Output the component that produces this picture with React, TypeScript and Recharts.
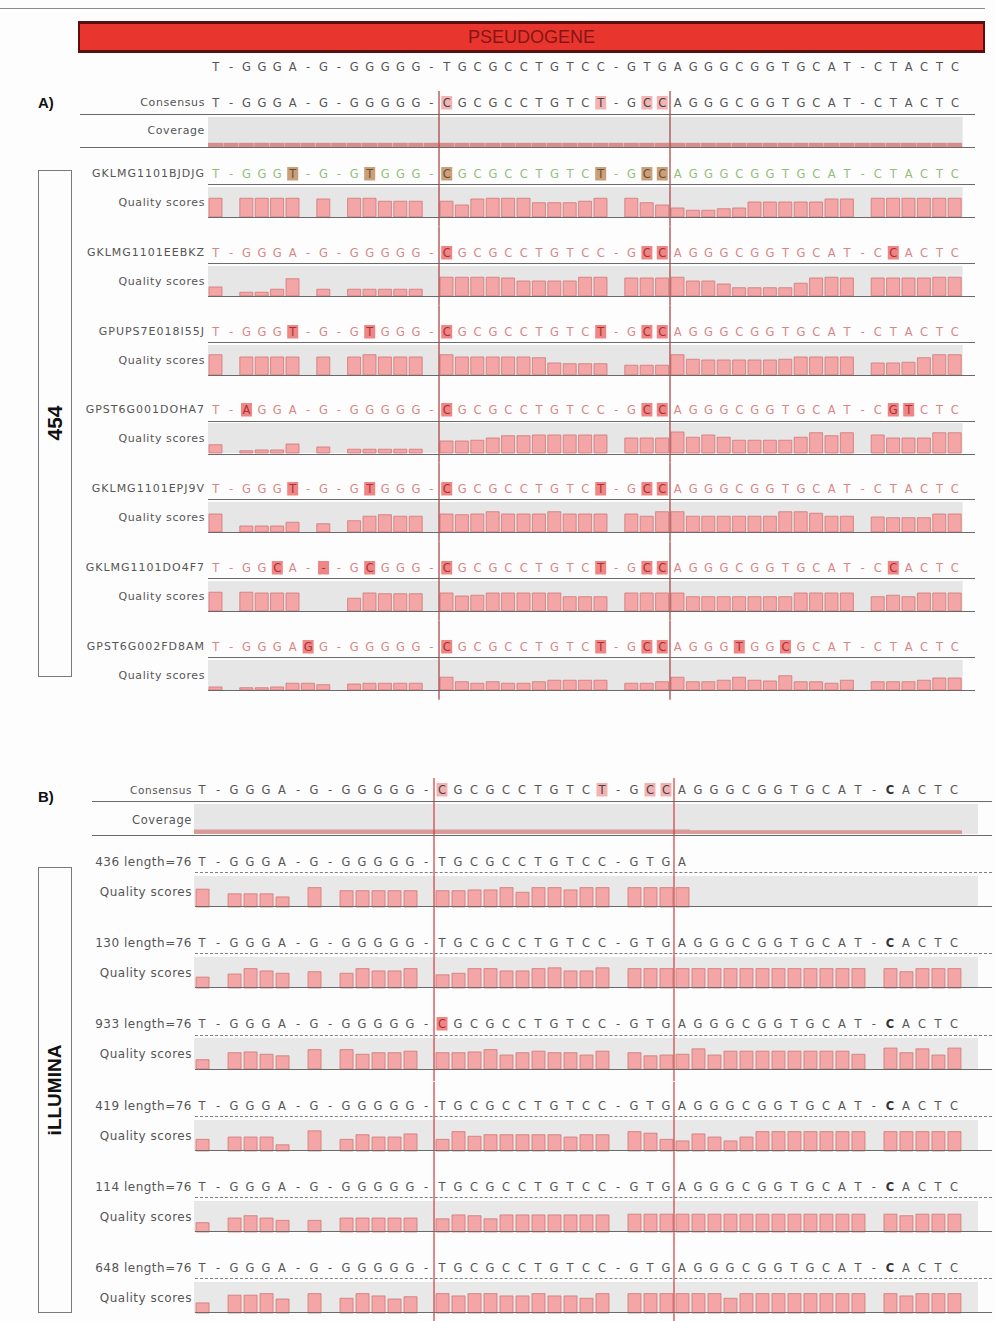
import React from 'react';
import { BarChart, Bar, XAxis, YAxis, ReferenceLine, CartesianGrid } from 'recharts';

const _ = null;

// ---------- Panel A: 454 reads ----------
const referenceA = 'T-GGGA-G-GGGGG-TGCGCCTGTCC-GTGAGGGCGGTGCAT-CTACTC';
const consensusA = 'T-GGGA-G-GGGGG-CGCGCCTGTCT-GCCAGGGCGGTGCAT-CTACTC';
const consensusMarksA = [15, 25, 28, 29];
const coverageA = [7, 7, 7, 7, 7, 7, 7, 7, 7, 7, 7, 7, 7, 7, 7, 7, 7, 7, 7, 7, 7, 7, 7, 7, 7, 7, 7, 7, 7, 7, 7, 7, 7, 7, 7, 7, 7, 7, 7, 7, 7, 7, 7, 7, 7, 7, 7, 7, 7];

const namesA = ['GKLMG1101BJDJG', 'GKLMG1101EEBKZ', 'GPUPS7E018I55J', 'GPST6G001DOHA7', 'GKLMG1101EPJ9V', 'GKLMG1101DO4F7', 'GPST6G002FD8AM'];
const seqsA = [
  'T-GGGT-G-GTGGG-CGCGCCTGTCT-GCCAGGGCGGTGCAT-CTACTC',
  'T-GGGA-G-GGGGG-CGCGCCTGTCC-GCCAGGGCGGTGCAT-CCACTC',
  'T-GGGT-G-GTGGG-CGCGCCTGTCT-GCCAGGGCGGTGCAT-CTACTC',
  'T-AGGA-G-GGGGG-CGCGCCTGTCC-GCCAGGGCGGTGCAT-CGTCTC',
  'T-GGGT-G-GTGGG-CGCGCCTGTCT-GCCAGGGCGGTGCAT-CTACTC',
  'T-GGCA---GCGGG-CGCGCCTGTCT-GCCAGGGCGGTGCAT-CCACTC',
  'T-GGGAGG-GGGGG-CGCGCCTGTCT-GCCAGGGTGGCGCAT-CTACTC',
];
const marksA = [
  [5, 10, 15, 25, 28, 29],
  [15, 28, 29, 44],
  [5, 10, 15, 25, 28, 29],
  [2, 15, 28, 29, 44, 45],
  [5, 10, 15, 25, 28, 29],
  [4, 7, 10, 15, 25, 28, 29, 44],
  [6, 15, 25, 28, 29, 34, 37],
];
const qualityA1 = [25, _, 25, 25, 25, 25, _, 24, _, 25, 25, 21, 21, 21, _, 21, 16, 24, 25, 25, 25, 19, 19, 19, 21, 25, _, 25, 19, 16, 12, 9, 9, 11, 12, 20, 20, 20, 20, 20, 24, 24, _, 25, 25, 25, 25, 25, 25];
const qualityA2 = [12, _, 5, 5, 9, 23, _, 9, _, 9, 9, 9, 9, 9, _, 25, 25, 25, 25, 24, 20, 20, 20, 20, 25, 25, _, 24, 24, 24, 25, 20, 20, 16, 11, 11, 11, 11, 17, 24, 25, 24, _, 24, 24, 24, 24, 25, 25];
const qualityA3 = [27, _, 24, 24, 24, 24, _, 24, _, 24, 27, 24, 24, 24, _, 27, 24, 24, 24, 24, 24, 23, 16, 15, 15, 15, _, 13, 13, 13, 27, 21, 20, 20, 20, 20, 20, 21, 24, 24, 24, 24, _, 16, 16, 17, 23, 27, 27];
const qualityA4 = [11, _, 3, 4, 4, 12, _, 8, _, 5, 5, 5, 5, 5, _, 16, 16, 17, 20, 23, 23, 24, 24, 24, 24, 24, _, 20, 20, 20, 28, 21, 24, 21, 17, 17, 17, 17, 21, 27, 23, 27, _, 24, 20, 20, 20, 27, 27];
const qualityA5 = [24, _, 8, 8, 8, 13, _, 11, _, 15, 21, 23, 21, 21, _, 24, 23, 24, 27, 24, 24, 24, 27, 24, 24, 24, _, 24, 21, 27, 27, 21, 21, 21, 21, 21, 21, 27, 27, 25, 21, 21, _, 20, 19, 19, 19, 24, 24];
const qualityA6 = [25, _, 25, 24, 24, 24, _, _, _, 17, 24, 23, 23, 23, _, 24, 20, 21, 24, 24, 24, 24, 24, 19, 19, 19, _, 24, 24, 24, 24, 19, 19, 19, 19, 19, 19, 19, 24, 24, 24, 24, _, 19, 21, 19, 24, 24, 24];
const qualityA7 = [4, _, 3, 3, 4, 9, 9, 7, _, 8, 9, 9, 9, 9, _, 17, 11, 9, 11, 9, 9, 11, 13, 13, 13, 13, _, 9, 9, 11, 17, 11, 11, 13, 17, 13, 12, 19, 11, 11, 9, 13, _, 11, 11, 11, 13, 16, 16];
const qualityA = [qualityA1, qualityA2, qualityA3, qualityA4, qualityA5, qualityA6, qualityA7];

// ---------- Panel B: Illumina reads ----------
const consensusB = 'T-GGGA-G-GGGGG-CGCGCCTGTCT-GCCAGGGCGGTGCAT-CACTC';
const consensusMarksB = [15, 25, 28, 29];
const insertionColsB = [43];
const coverageB = [6, 6, 6, 6, 6, 6, 6, 6, 6, 6, 6, 6, 6, 6, 6, 6, 6, 6, 6, 6, 6, 6, 6, 6, 6, 6, 6, 6, 6, 6, 6, 5, 5, 5, 5, 5, 5, 5, 5, 5, 5, 5, 5, 5, 5, 5, 5, 5, _];

const namesB = ['436 length=76', '130 length=76', '933 length=76', '419 length=76', '114 length=76', '648 length=76'];
const seqsB = [
  'T-GGGA-G-GGGGG-TGCGCCTGTCC-GTGA',
  'T-GGGA-G-GGGGG-TGCGCCTGTCC-GTGAGGGCGGTGCAT-CACTC',
  'T-GGGA-G-GGGGG-CGCGCCTGTCC-GTGAGGGCGGTGCAT-CACTC',
  'T-GGGA-G-GGGGG-TGCGCCTGTCC-GTGAGGGCGGTGCAT-CACTC',
  'T-GGGA-G-GGGGG-TGCGCCTGTCC-GTGAGGGCGGTGCAT-CACTC',
  'T-GGGA-G-GGGGG-TGCGCCTGTCC-GTGAGGGCGGTGCAT-CACTC',
];
const marksB = [[], [], [15], [], [], []];
const qualityB1 = [23, _, 17, 17, 17, 13, _, 25, _, 21, 21, 21, 21, 21, _, 21, 21, 22, 22, 25, 19, 25, 25, 22, 25, 25, _, 25, 25, 25, 25, _, _, _, _, _, _, _, _, _, _, _, _, _, _, _, _, _, _];
const qualityB2 = [14, _, 18, 25, 22, 19, _, 21, _, 19, 25, 22, 22, 25, _, 17, 19, 25, 25, 22, 22, 25, 26, 22, 22, 26, _, 25, 25, 25, 25, 25, 25, 25, 25, 25, 25, 25, 25, 25, 25, 25, _, 25, 21, 25, 25, 25, _];
const qualityB3 = [12, _, 21, 22, 19, 17, _, 25, _, 25, 19, 21, 21, 23, _, 21, 21, 22, 25, 18, 21, 23, 21, 21, 18, 23, _, 21, 17, 18, 19, 26, 18, 23, 23, 23, 23, 23, 23, 23, 23, 19, _, 27, 21, 26, 18, 27, _];
const qualityB4 = [15, _, 18, 18, 18, 8, _, 26, _, 15, 21, 18, 18, 22, _, 15, 25, 19, 21, 21, 21, 21, 21, 18, 21, 21, _, 25, 23, 15, 13, 22, 18, 13, 18, 25, 25, 25, 25, 25, 25, 25, _, 25, 25, 25, 25, 25, _];
const qualityB5 = [12, _, 18, 21, 18, 15, _, 15, _, 18, 18, 18, 18, 18, _, 17, 22, 21, 17, 22, 22, 22, 22, 22, 22, 22, _, 23, 23, 23, 23, 23, 23, 23, 23, 23, 23, 23, 23, 23, 23, 23, _, 23, 21, 23, 23, 23, _];
const qualityB6 = [13, _, 23, 23, 25, 18, _, 25, _, 19, 25, 22, 18, 21, _, 25, 22, 25, 25, 22, 22, 25, 22, 22, 19, 25, _, 25, 25, 25, 25, 25, 25, 19, 25, 25, 25, 25, 25, 25, 25, 25, _, 25, 22, 25, 25, 25, _];
const qualityB = [qualityB1, qualityB2, qualityB3, qualityB4, qualityB5, qualityB6];

// red boundary lines sit just before these alignment columns
const boundaryCols = [15, 30];

// ---------- drawing helpers ----------
const SANS = '"DejaVu Sans", "Noto Sans", sans-serif';

type Geo = { left: number; width: number; ml: number; mr: number; n: number; lineColor: string };
const geoA: Geo = { left: 200, width: 775, ml: 8, mr: 12.4, n: 49, lineColor: '#a83c3c' };
const geoB: Geo = { left: 186, width: 806, ml: 8, mr: 14, n: 49, lineColor: '#cf3c3c' };

type LetterStyle = {
  seq: string;
  marks: number[];
  bold?: number[];
  color: string;
  markFill: string;
  markText: string;
  dy: number;
};

function renderLetter(t: any, s: LetterStyle) {
  const i = Number(t.payload?.value);
  const ch = s.seq[i];
  if (ch === undefined) return <g />;
  const x = t.x;
  const y = t.y - s.dy;
  const marked = s.marks.includes(i);
  const bold = s.bold ? s.bold.includes(i) : false;
  return (
    <g>
      {marked && <rect x={x - 5.5} y={y - 11} width={11} height={13.5} fill={s.markFill} />}
      <text
        x={x}
        y={y}
        textAnchor="middle"
        fontFamily={SANS}
        fontSize={11.5}
        fontWeight={bold ? 700 : 400}
        fill={marked ? s.markText : bold ? '#333' : s.color}
      >
        {ch}
      </text>
    </g>
  );
}

type TrackProps = {
  geo: Geo;
  top: number;
  height: number;
  axisHeight: number;
  bottom: number;
  letters: LetterStyle;
  values?: (number | null)[];
  yMax?: number;
  band?: string;
  barFill?: string;
  barStroke?: string;
  barSize?: number;
};

function Track(p: TrackProps) {
  const data = Array.from({ length: p.geo.n }, (_u, i) => ({
    col: i,
    v: p.values ? (p.values[i] ?? null) : null,
  }));
  const H = p.height;
  return (
    <div style={{ position: 'absolute', left: p.geo.left, top: p.top }}>
      <BarChart
        width={p.geo.width}
        height={H}
        data={data}
        margin={{ top: 0, right: p.geo.mr, bottom: p.bottom, left: p.geo.ml }}
        barCategoryGap={0}
        barGap={0}
      >
        {p.band && (
          <CartesianGrid fill={p.band} fillOpacity={1} horizontal={false} vertical={false} stroke="none" />
        )}
        <XAxis
          dataKey="col"
          type="category"
          orientation="top"
          height={p.axisHeight}
          interval={0}
          tickLine={false}
          axisLine={false}
          tickSize={0}
          tickMargin={0}
          tick={(t: any) => renderLetter(t, p.letters)}
        />
        <YAxis hide domain={[0, p.yMax ?? 40]} />
        {p.values && (
          <Bar
            dataKey="v"
            fill={p.barFill}
            stroke={p.barStroke ?? 'none'}
            strokeWidth={0.8}
            barSize={p.barSize}
            isAnimationActive={false}
          />
        )}
        {boundaryCols.map((c) => (
          <ReferenceLine
            key={c}
            x={c}
            position="start"
            stroke={p.geo.lineColor}
            strokeWidth={1.2}
            shape={(s: any) => (
              <line x1={s.x1} x2={s.x2} y1={0} y2={H} stroke={p.geo.lineColor} strokeWidth={1.2} />
            )}
          />
        ))}
      </BarChart>
    </div>
  );
}

function SideText({ right, y, text, size = 11, spacing = 0.6, color = '#555' }: { right: number; y: number; text: string; size?: number; spacing?: number; color?: string }) {
  return (
    <div
      style={{
        position: 'absolute',
        left: right - 220,
        width: 220,
        top: y - 8,
        height: 16,
        lineHeight: '16px',
        textAlign: 'right',
        fontFamily: SANS,
        fontSize: size,
        letterSpacing: spacing,
        color,
        whiteSpace: 'nowrap',
      }}
    >
      {text}
    </div>
  );
}

function Rule({ x1, x2, y, color = '#6a6a6a', w = 1.5, dashed = false }: { x1: number; x2: number; y: number; color?: string; w?: number; dashed?: boolean }) {
  return (
    <div
      style={{
        position: 'absolute',
        left: x1,
        width: x2 - x1,
        top: y - w / 2,
        height: 0,
        borderTop: `${w}px ${dashed ? 'dashed' : 'solid'} ${color}`,
      }}
    />
  );
}

function GroupBox({ top, height, label, cy, size }: { top: number; height: number; label: string; cy: number; size: number }) {
  return (
    <>
      <div
        style={{
          position: 'absolute',
          left: 38,
          top,
          width: 34,
          height,
          boxSizing: 'border-box',
          border: '1.5px solid #7a7a7a',
        }}
      />
      <div
        style={{
          position: 'absolute',
          left: 55 - 100,
          top: cy - 14,
          width: 200,
          height: 28,
          lineHeight: '28px',
          textAlign: 'center',
          transform: 'rotate(-90deg)',
          fontFamily: '"Liberation Sans", Arial, sans-serif',
          fontWeight: 700,
          fontSize: size,
          color: '#111',
        }}
      >
        {label}
      </div>
    </>
  );
}

const readTopA = (i: number) => 148 + i * 78.8;
const readTopB = (i: number) => 838 + i * 81.2;

export default function App() {
  return (
    <div
      style={{
        position: 'absolute',
        left: 0,
        top: 0,
        width: 995,
        height: 1321,
        overflow: 'hidden',
        background: '#fdfdfd',
        fontFamily: SANS,
      }}
    >
      <div style={{ position: 'absolute', left: 0, top: 8, width: 985, height: 1, background: '#8c8c8c' }} />

      {/* pseudogene banner */}
      <div
        style={{
          position: 'absolute',
          left: 78,
          top: 21,
          width: 907,
          height: 32,
          boxSizing: 'border-box',
          background: '#e8352e',
          borderTop: '3px solid #5a1010',
          borderBottom: '3px solid #5a1010',
          borderLeft: '2px solid #5a1010',
          borderRight: '2px solid #5a1010',
          display: 'flex',
          alignItems: 'center',
          justifyContent: 'center',
          color: '#861515',
          fontFamily: '"Liberation Sans", Arial, sans-serif',
          fontSize: 18,
        }}
      >
        PSEUDOGENE
      </div>

      {/* ---------- panel A ---------- */}
      <div style={{ position: 'absolute', left: 38, top: 94, fontFamily: '"Liberation Sans", Arial, sans-serif', fontWeight: 700, fontSize: 15, color: '#111' }}>A)</div>

      <Track
        geo={geoA}
        top={55}
        height={36}
        axisHeight={26}
        bottom={0}
        letters={{ seq: referenceA, marks: [], color: '#555', markFill: '#f4b3b3', markText: '#444', dy: 10 }}
      />
      <Track
        geo={geoA}
        top={91}
        height={57}
        axisHeight={26}
        bottom={1}
        letters={{ seq: consensusA, marks: consensusMarksA, color: '#555', markFill: '#f4b3b3', markText: '#444', dy: 10 }}
        values={coverageA}
        yMax={50}
        band="#e4e4e4"
        barFill="#d98c8c"
      />
      <SideText right={205} y={103} text="Consensus" />
      <SideText right={205} y={131} text="Coverage" />
      <Rule x1={80} x2={975} y={115} />
      <Rule x1={80} x2={975} y={148} />

      {namesA.map((name, i) => {
        const top = readTopA(i);
        const first = i === 0;
        return (
          <React.Fragment key={name}>
            <Track
              geo={geoA}
              top={top}
              height={78.8}
              axisHeight={39}
              bottom={9.8}
              letters={{
                seq: seqsA[i],
                marks: marksA[i],
                color: first ? '#93bd7a' : '#d98585',
                markFill: first ? '#c9a07a' : '#f08585',
                markText: first ? '#6e4f33' : '#a83232',
                dy: 9,
              }}
              values={qualityA[i]}
              yMax={40}
              band="#e6e6e6"
              barFill="#f4a5a5"
              barStroke="#d27676"
              barSize={13}
            />
            <SideText right={205} y={top + 26} text={name} spacing={1} />
            <SideText right={205} y={top + 55} text="Quality scores" />
            <Rule x1={208} x2={975} y={top + 37} />
            <Rule x1={208} x2={975} y={top + 70} />
          </React.Fragment>
        );
      })}

      <GroupBox top={170} height={507} label="454" cy={423} size={21} />

      {/* ---------- panel B ---------- */}
      <div style={{ position: 'absolute', left: 38, top: 788, fontFamily: '"Liberation Sans", Arial, sans-serif', fontWeight: 700, fontSize: 15, color: '#111' }}>B)</div>

      <Track
        geo={geoB}
        top={778}
        height={60}
        axisHeight={26}
        bottom={4}
        letters={{ seq: consensusB, marks: consensusMarksB, bold: insertionColsB, color: '#555', markFill: '#f4b3b3', markText: '#444', dy: 10 }}
        values={coverageB}
        yMax={40}
        band="#e6e6e6"
        barFill="#d99a9a"
      />
      <SideText right={192} y={790} text="Consensus" size={10.5} />
      <SideText right={192} y={820} text="Coverage" size={11.5} />
      <Rule x1={92} x2={992} y={802} />
      <Rule x1={92} x2={992} y={836} />

      {namesB.map((name, i) => {
        const top = readTopB(i);
        return (
          <React.Fragment key={name}>
            <Track
              geo={geoB}
              top={top}
              height={81.2}
              axisHeight={38}
              bottom={12.2}
              letters={{
                seq: seqsB[i],
                marks: marksB[i],
                bold: insertionColsB,
                color: '#555',
                markFill: '#f08585',
                markText: '#a83232',
                dy: 10,
              }}
              values={qualityB[i]}
              yMax={40}
              band="#e8e8e8"
              barFill="#f4a5a5"
              barStroke="#d27676"
              barSize={13}
            />
            <SideText right={192} y={top + 24} text={name} size={12} spacing={0.5} />
            <SideText right={192} y={top + 54} text="Quality scores" size={12} spacing={0.5} />
            <Rule x1={195} x2={992} y={top + 35} color="#808080" dashed />
            <Rule x1={195} x2={992} y={top + 69} />
          </React.Fragment>
        );
      })}

      <GroupBox top={867} height={446} label="iLLUMINA" cy={1090} size={19} />
    </div>
  );
}
